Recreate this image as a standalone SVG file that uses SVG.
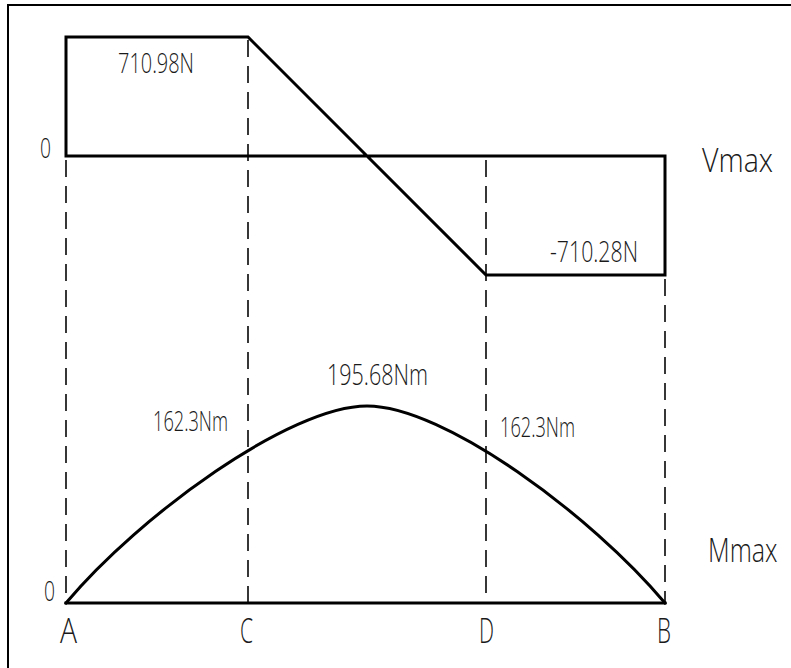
<svg xmlns="http://www.w3.org/2000/svg" width="791" height="668" viewBox="0 0 791 668">
<style>
.solid{fill:none;stroke:#000;stroke-width:3;stroke-linejoin:miter;stroke-linecap:square}
.dash{fill:none;stroke:#222;stroke-width:1.8;stroke-dasharray:17 9}
.frame{fill:none;stroke:#000;stroke-width:2}
text{font-family:"Open Sans","Liberation Sans",Arial,sans-serif;font-weight:300;fill:#1a1a1a}
</style>
<rect width="791" height="668" fill="#fff"/>
<path class="frame" d="M8,668 V5 H791"/>
<g id="dashed-guides">
<line class="dash" x1="66" y1="160" x2="66" y2="603"/>
<line class="dash" x1="248" y1="40" x2="248" y2="603"/>
<line class="dash" x1="486" y1="160" x2="486" y2="603"/>
<line class="dash" x1="665" y1="279" x2="665" y2="603"/>
</g>
<g id="shear-diagram">
<path class="solid" d="M66,156 V37 H248 L486,275 H665 V156 H66"/>
</g>
<g id="moment-diagram">
<path class="solid" d="M66,603 H665"/>
<path class="solid" d="M66,603 C140,515 290,406 367,406 C444,406 591,515 665,603"/>
</g>
<g id="labels">
<text x="118" y="73" font-size="27" textLength="76" lengthAdjust="spacingAndGlyphs">710.98N</text>
<text x="40" y="158" font-size="27" textLength="11" lengthAdjust="spacingAndGlyphs">0</text>
<text x="702" y="172" font-size="33" textLength="71" lengthAdjust="spacingAndGlyphs">Vmax</text>
<text x="550" y="262" font-size="29" textLength="88" lengthAdjust="spacingAndGlyphs">-710.28N</text>
<text x="327" y="385" font-size="29" textLength="101" lengthAdjust="spacingAndGlyphs">195.68Nm</text>
<text x="153" y="431" font-size="28" textLength="75" lengthAdjust="spacingAndGlyphs">162.3Nm</text>
<text x="500" y="437" font-size="28" textLength="75" lengthAdjust="spacingAndGlyphs">162.3Nm</text>
<text transform="translate(708,562) scale(0.76,1)" x="0" y="0" font-size="33">Mmax</text>
<text x="44" y="601" font-size="28" textLength="11" lengthAdjust="spacingAndGlyphs">0</text>
<text x="60" y="643" font-size="35" textLength="17" lengthAdjust="spacingAndGlyphs">A</text>
<text x="240" y="643" font-size="35" textLength="13" lengthAdjust="spacingAndGlyphs">C</text>
<text x="479" y="643" font-size="35" textLength="15" lengthAdjust="spacingAndGlyphs">D</text>
<text x="657" y="643" font-size="35" textLength="14" lengthAdjust="spacingAndGlyphs">B</text>
</g>
</svg>
